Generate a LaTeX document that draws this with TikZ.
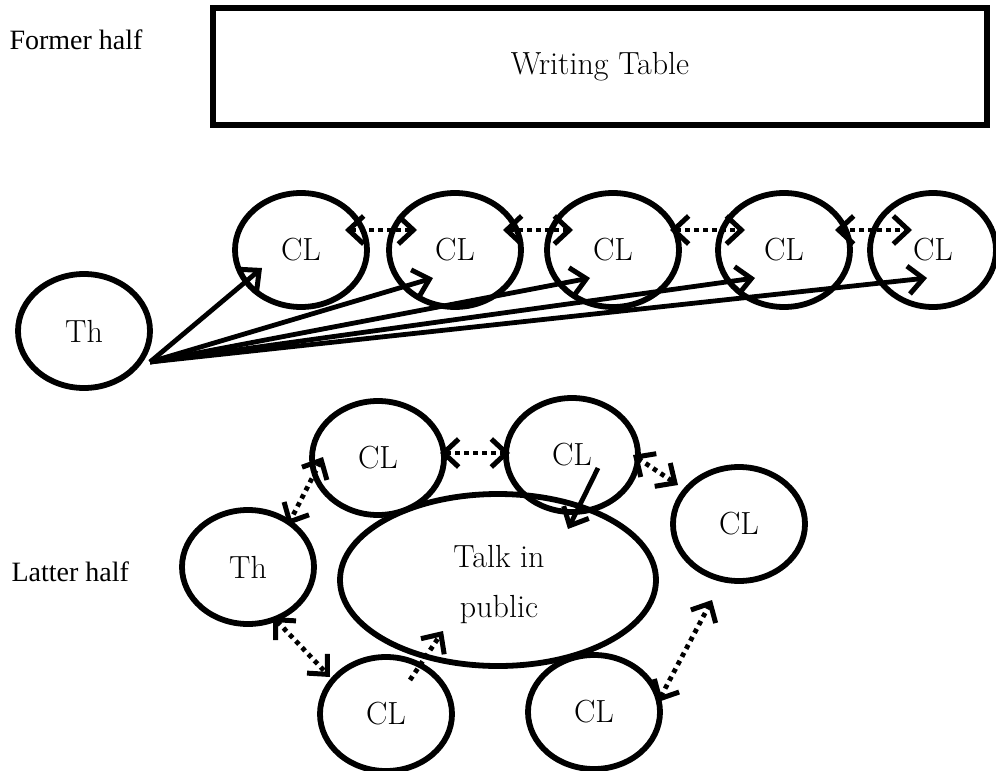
\documentclass[tikz,border=0pt]{standalone}
\usepackage{fontspec}
\newfontfamily\tnr{Liberation Serif}
\usetikzlibrary{shapes.geometric,arrows.meta,calc}
\begin{document}
\begin{tikzpicture}[x=1pt,y=-1pt,
  every node/.style={font=\fontsize{32}{50}\selectfont},
  bub/.style={draw,ellipse,line width=5.8pt,minimum width=132pt,minimum height=114pt,inner sep=0pt},
  tbl/.style={draw,line width=6pt,minimum width=774pt,minimum height=117pt,inner sep=0pt},
  lab/.style={anchor=west,font=\tnr\fontsize{28}{30}\selectfont},
  barb/.tip={Straight Barb[length=15pt,width=28pt,line width=5pt]},
  sol/.style={line width=4.8pt,-barb},
  dot/.style={line width=4.8pt,dash pattern=on 4.5pt off 4.5pt},
  dbl/.style={dot,barb-barb},
  sgl/.style={dot,-barb}]
\useasboundingbox (0,0) rectangle (996,771);
% former half
\node[lab] (fh) at (6,40) {Former half};
\node[tbl] (wt) at (600,66.5) {Writing Table};
\node[bub] (th1) at (84,331) {Th};
\node[bub] (c1) at (301,250) {CL};
\node[bub] (c2) at (455,250) {CL};
\node[bub] (c3) at (613,250) {CL};
\node[bub] (c4) at (784,250) {CL};
\node[bub,minimum width=126pt] (c5) at (933,250) {CL};
\coordinate (tho) at ($(th1.center)+(66,31)$);
\draw[sol] (tho) -- ($(c1.center)+(-39,18)$);
\draw[sol] (tho) -- ($(c2.center)+(-22,28)$);
\draw[sol] (tho) -- ($(c3.center)+(-23,28)$);
\draw[sol] (tho) -- ($(c4.center)+(-29,28)$);
\draw[sol] (tho) -- ($(c5.center)+(-6,28)$);
\draw[dbl] ($(c1.center)+(44,-20)$) -- ($(c2.center)+(-38,-20)$);
\draw[dbl] ($(c2.center)+(48,-20)$) -- ($(c3.center)+(-40,-20)$);
\draw[dbl] ($(c3.center)+(57,-20)$) -- ($(c4.center)+(-39,-20)$);
\draw[dbl] ($(c4.center)+(51,-20)$) -- ($(c5.center)+(-21,-20)$);
% latter half
\node[lab] (lh) at (8,572) {Latter half};
\node[bub] (th2) at (248,567) {Th};
\node[bub,minimum width=316pt,minimum height=172pt,align=center] (talk) at (498,580) {};
\node[align=center] (talktxt) at (499,585) {Talk in\\public};
\node[bub] (ca) at (378,458) {CL};
\node[bub] (cb) at (572,455) {CL};
\node[bub] (cc) at (739,524) {CL};
\node[bub] (cd) at (386,714) {CL};
\node[bub] (ce) at (594,712) {CL};
\draw[dbl] ($(ca.center)+(62,-5)$) -- ($(cb.center)+(-62,-2)$);
\draw[dbl] ($(ca.center)+(-55,-1)$) -- ($(th2.center)+(40,-42)$);
\draw[sol] ($(cb.center)+(26,13)$) -- ($(talk.center)+(70,-51)$);
\draw[dbl] ($(cb.center)+(61,0)$) -- ($(cc.center)+(-61,-39)$);
\draw[dbl] ($(th2.center)+(25,50)$) -- ($(cd.center)+(-56,-37)$);
\draw[sgl] ($(cd.center)+(24,-34)$) -- ($(talk.center)+(-55,51)$);
\draw[dbl] ($(ce.center)+(64,-10)$) -- ($(cc.center)+(-27,76)$);
\end{tikzpicture}
\end{document}
